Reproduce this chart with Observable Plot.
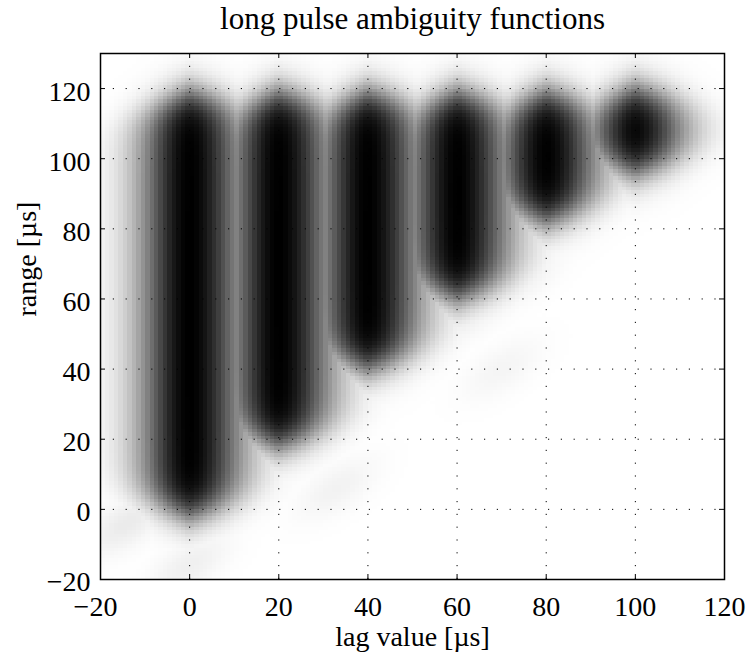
<!DOCTYPE html>
<html><head><meta charset="utf-8">
<script src="https://cdn.jsdelivr.net/npm/d3@7"></script>
<script src="https://cdn.jsdelivr.net/npm/@observablehq/plot@0.6"></script>
<style>
body{margin:0;background:#fff;}
#chart{width:748px;height:653px;}
</style></head><body><div id="chart"></div>
<script>
const title = "long pulse ambiguity functions";
const xLabel = "lag value [µs]";
const yLabel = "range [µs]";
const xTicks = [-20, 0, 20, 40, 60, 80, 100, 120];
const yTicks = [-20, 0, 20, 40, 60, 80, 100, 120];

// main ambiguity bands (one per lag)
const lags       = [0, 20, 40, 60, 80, 100];
const rangeStart = [-2, 18, 40, 60, 82, 96];
const rangeEnd   = [119, 119, 119, 119, 119, 120];
const peaks      = [1, 1, 1, 1, 1, 1];

// faint side lobes below the staircase
const lobeLag   = [-14, 0, 14, 33, 50, 62, 74, 70];
const lobeRange = [-4, -16, 4, 6, 46, 56, 66, 40];
const lobePeak  = [0.08, 0.06, 0.05, 0.05, 0.07, 0.07, 0.06, 0.04];

const nx = 140, ny = 150;
const Phi = z => 1 / (1 + Math.exp(-1.702 * z));
function darkness(x, y) {
  let v = 0;
  for (let k = 0; k < lags.length; k++) {
    const dx = x - lags[k];
    const sig = dx < 0 ? 8 : 8.6;
    const h = Math.exp(-dx * dx / (2 * sig * sig));
    const lo = rangeStart[k] + (dx < 0 ? 0.45 : 0.4) * Math.abs(dx);
    const hi = rangeEnd[k] - (dx < 0 ? 0.5 : 0.35) * Math.abs(dx);
    const s = peaks[k] * h * Phi((y - lo) / 5) * Phi((hi - y) / 5);
    v = Math.max(v, s);
  }
  for (let k = 0; k < lobeLag.length; k++) {
    const dx = x - lobeLag[k], dy = y - lobeRange[k];
    const u = (dx + dy) / Math.SQRT2, w = (dx - dy) / Math.SQRT2;
    v = Math.max(v, lobePeak[k] * Math.exp(-u * u / (2 * 64) - w * w / (2 * 16)));
  }
  return v;
}
const grid = [];
for (let j = 0; j < ny; j++) {
  const y = 130 - (j + 0.5);
  for (let i = 0; i < nx; i++) grid.push(darkness(-20 + i + 0.5, y));
}

const gridX = xTicks.filter(d => d > -20 && d < 120);
const gridY = yTicks.filter(d => d > -20 && d < 130);
const font = "'Liberation Serif', 'Times New Roman', serif";

const chart = Plot.plot({
  width: 748, height: 653,
  marginLeft: 100, marginRight: 24, marginTop: 53, marginBottom: 74,
  style: {fontFamily: font, fontSize: "28px", color: "black", background: "white"},
  x: {domain: [-20, 120]},
  y: {domain: [-20, 130]},
  color: {type: "linear", domain: [0, 1], range: ["white", "black"], clamp: true},
  marks: [
    Plot.raster(grid, {width: nx, height: ny, x1: -20, x2: 120, y1: 130, y2: -20, imageRendering: "pixelated"}),
    Plot.ruleX(gridX, {stroke: "black", strokeWidth: 1, strokeDasharray: "1.2,11.6"}),
    Plot.ruleY(gridY, {stroke: "black", strokeWidth: 1, strokeDasharray: "1.2,11.6"}),
    Plot.ruleX(xTicks, {insetTop: 521, stroke: "black"}),
    Plot.ruleX(xTicks, {insetBottom: 521, stroke: "black"}),
    Plot.ruleY(yTicks, {insetRight: 619, stroke: "black"}),
    Plot.ruleY(yTicks, {insetLeft: 619, stroke: "black"}),
    Plot.frame({stroke: "black", strokeWidth: 1.5}),
    Plot.axisX(xTicks.slice(0, 1), {tickSize: 0, tickPadding: 17, dx: -5, fontSize: 28, label: null}),
    Plot.axisX(xTicks.slice(1), {tickSize: 0, tickPadding: 17, fontSize: 28, label: null}),
    Plot.axisY(yTicks, {tickSize: 0, tickPadding: 10, dy: 3, fontSize: 28, label: null}),
    Plot.text([title], {text: d => d, frameAnchor: "top", lineAnchor: "bottom", dy: -25, fontSize: 31}),
    Plot.text([xLabel], {text: d => d, frameAnchor: "bottom", lineAnchor: "bottom", dy: 66, fontSize: 28}),
    Plot.text([yLabel], {text: d => d, frameAnchor: "left", lineAnchor: "bottom", rotate: -90, dx: -65, fontSize: 28})
  ]
});
document.getElementById("chart").appendChild(chart);
</script></body></html>
